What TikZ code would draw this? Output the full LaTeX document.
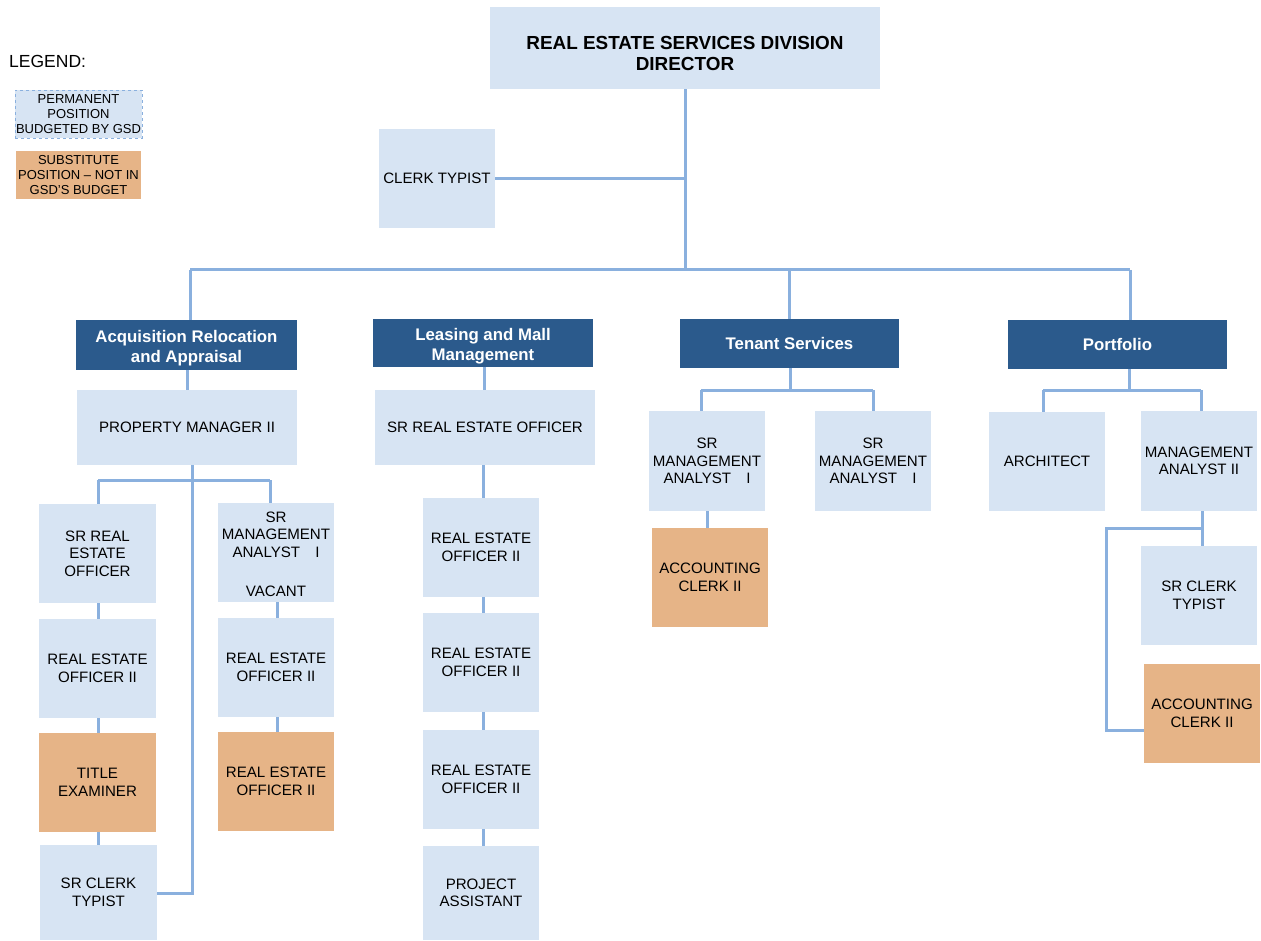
\documentclass[tikz,border=0pt]{standalone}
\usepackage{fontspec}
\setmainfont{Liberation Sans}
\definecolor{posfill}{HTML}{D7E4F3}
\definecolor{subfill}{HTML}{E6B487}
\definecolor{headfill}{HTML}{2B5A8C}
\definecolor{linkcol}{HTML}{8AB0DE}
\tikzset{
  permbox/.style={fill=posfill, align=center, inner sep=0pt, font=\fontsize{15.1}{17.5}\selectfont},
  subbox/.style={permbox, fill=subfill},
  headbox/.style={fill=headfill, text=white, align=center, inner sep=0pt, font=\bfseries\fontsize{16.8}{20}\selectfont},
  headtext/.style={text=white, align=center, inner sep=0pt, font=\bfseries\fontsize{16.8}{20}\selectfont},
  legbox/.style={font=\fontsize{13}{15.4}\selectfont},
  link/.style={draw=linkcol, line width=3pt},
}
% box from top-left corner (x1,y1) to bottom-right (x2,y2), in pixel-like units
\newcommand{\orgbox}[7]{%
  \node[#1, minimum width=#4-#2, minimum height=#5-#3] (#6) at ({(#2+#4)/2},{(#3+#5)/2}) {#7};}
\begin{document}
\begin{tikzpicture}[x=1pt,y=-1pt]
\useasboundingbox (0,0) rectangle (1261,941);

% legend
\node[anchor=west, font=\fontsize{17.5}{20}\selectfont, inner sep=0pt] (legend) at (9,61) {LEGEND:};
\orgbox{permbox, legbox, draw=linkcol, dashed, line width=0.8pt}{15}{90}{142}{138}{legperm}{PERMANENT\\POSITION\\BUDGETED BY GSD}
\orgbox{subbox, legbox}{16}{151}{141}{199}{legsub}{SUBSTITUTE\\POSITION -- NOT IN\\GSD'S BUDGET}

% top level
\orgbox{permbox}{490}{7}{880}{89}{dir}{}
\node[align=center, inner sep=0pt, font=\bfseries\fontsize{18.9}{21}\selectfont] (dirtext) at ([yshift=-5pt]dir.center) {REAL ESTATE SERVICES DIVISION\\DIRECTOR};
\orgbox{permbox}{379}{129}{495}{228}{clerk}{CLERK TYPIST}

% division headers
\orgbox{headbox}{76}{320}{297}{370}{acq}{}
\node[headtext] (acqtext) at ([yshift=-3pt]acq.center) {Acquisition Relocation\\and Appraisal};
\orgbox{headbox}{373}{319}{593}{367}{lease}{}
\node[headtext] (leasetext) at ([yshift=-3pt]lease.center) {Leasing and Mall\\Management};
\orgbox{headbox}{680}{319}{899}{368}{tenant}{Tenant Services}
\orgbox{headbox}{1008}{320}{1227}{369}{port}{Portfolio}

% acquisition column
\orgbox{permbox}{77}{390}{297}{465}{pm}{PROPERTY MANAGER II}
\orgbox{permbox}{39}{504}{156}{603}{a1}{SR REAL\\ESTATE\\OFFICER}
\orgbox{permbox}{39}{619}{156}{718}{a2}{REAL ESTATE\\OFFICER II}
\orgbox{subbox}{39}{733}{156}{832}{a3}{TITLE\\EXAMINER}
\orgbox{permbox}{40}{845}{157}{940}{a4}{SR CLERK\\TYPIST}
\orgbox{permbox}{218}{503}{334}{602}{b1}{}
\node[align=center, inner sep=0pt, font=\fontsize{15.1}{17.5}\selectfont] (b1text) at ([yshift=-2pt]b1.center) {SR\\MANAGEMENT\\ANALYST\quad I\\[22pt]VACANT};
\orgbox{permbox}{218}{618}{334}{717}{b2}{REAL ESTATE\\OFFICER II}
\orgbox{subbox}{218}{732}{334}{831}{b3}{REAL ESTATE\\OFFICER II}

% leasing column
\orgbox{permbox}{375}{390}{595}{465}{sreo}{SR REAL ESTATE OFFICER}
\orgbox{permbox}{423}{498}{539}{597}{l1}{REAL ESTATE\\OFFICER II}
\orgbox{permbox}{423}{613}{539}{712}{l2}{REAL ESTATE\\OFFICER II}
\orgbox{permbox}{423}{730}{539}{829}{l3}{REAL ESTATE\\OFFICER II}
\orgbox{permbox}{423}{846}{539}{940}{l4}{PROJECT\\ASSISTANT}

% tenant services column
\orgbox{permbox}{649}{411}{765}{511}{t1}{SR\\MANAGEMENT\\ANALYST\quad I}
\orgbox{permbox}{815}{411}{931}{511}{t2}{SR\\MANAGEMENT\\ANALYST\quad I}
\orgbox{subbox}{652}{528}{768}{627}{t3}{ACCOUNTING\\CLERK II}

% portfolio column
\orgbox{permbox}{989}{412}{1105}{511}{p1}{ARCHITECT}
\orgbox{permbox}{1141}{411}{1257}{511}{p2}{MANAGEMENT\\ANALYST II}
\orgbox{permbox}{1141}{546}{1257}{645}{p3}{SR CLERK\\TYPIST}
\orgbox{subbox}{1144}{664}{1260}{763}{p4}{ACCOUNTING\\CLERK II}

% connectors
\coordinate (bus) at (685,270);
\draw[link] (dir.south -| bus) -- (bus);
\draw[link] (clerk.east) -- (clerk.east -| bus);
\draw[link] (190,270) -- (1130,270);
\draw[link] (190,270) -- (acq.north -| 190,0);
\draw[link] (789,270) -- (tenant.north -| 789,0);
\draw[link] (1130,270) -- (port.north -| 1130,0);

% acquisition links
\draw[link] (acq.south -| 187,0) -- (pm.north -| 187,0);
\draw[link] (pm.south -| 192,0) -- (192,893) -- (a4.east |- 0,893);
\draw[link] (98,480) -- (270,480);
\draw[link] (98,480) -- (a1.north -| 98,0);
\draw[link] (270,480) -- (b1.north -| 270,0);
\draw[link] (a1.south -| 98,0) -- (a2.north -| 98,0);
\draw[link] (a2.south -| 98,0) -- (a3.north -| 98,0);
\draw[link] (a3.south -| 98,0) -- (a4.north -| 98,0);
\draw[link] (b1.south -| 277,0) -- (b2.north -| 277,0);
\draw[link] (b2.south -| 277,0) -- (b3.north -| 277,0);

% leasing links
\draw[link] (lease.south -| 484,0) -- (sreo.north -| 484,0);
\draw[link] (sreo.south -| 483,0) -- (l1.north -| 483,0);
\draw[link] (l1.south -| 483,0) -- (l2.north -| 483,0);
\draw[link] (l2.south -| 483,0) -- (l3.north -| 483,0);
\draw[link] (l3.south -| 483,0) -- (l4.north -| 483,0);

% tenant links
\draw[link] (tenant.south -| 790,0) -- (790,390);
\draw[link] (701,390) -- (873,390);
\draw[link] (701,390) -- (t1.north -| 701,0);
\draw[link] (873,390) -- (t2.north -| 873,0);
\draw[link] (t1.south -| 707,0) -- (t3.north -| 707,0);

% portfolio links
\draw[link] (port.south -| 1129,0) -- (1129,390);
\draw[link] (1043,390) -- (1201,390);
\draw[link] (1043,390) -- (p1.north -| 1043,0);
\draw[link] (1201,390) -- (p2.north -| 1201,0);
\draw[link] (p2.south -| 1202,0) -- (p3.north -| 1202,0);
\draw[link] (1202,528) -- (1106,528) -- (1106,730) -- (p4.west |- 0,730);
\end{tikzpicture}
\end{document}
